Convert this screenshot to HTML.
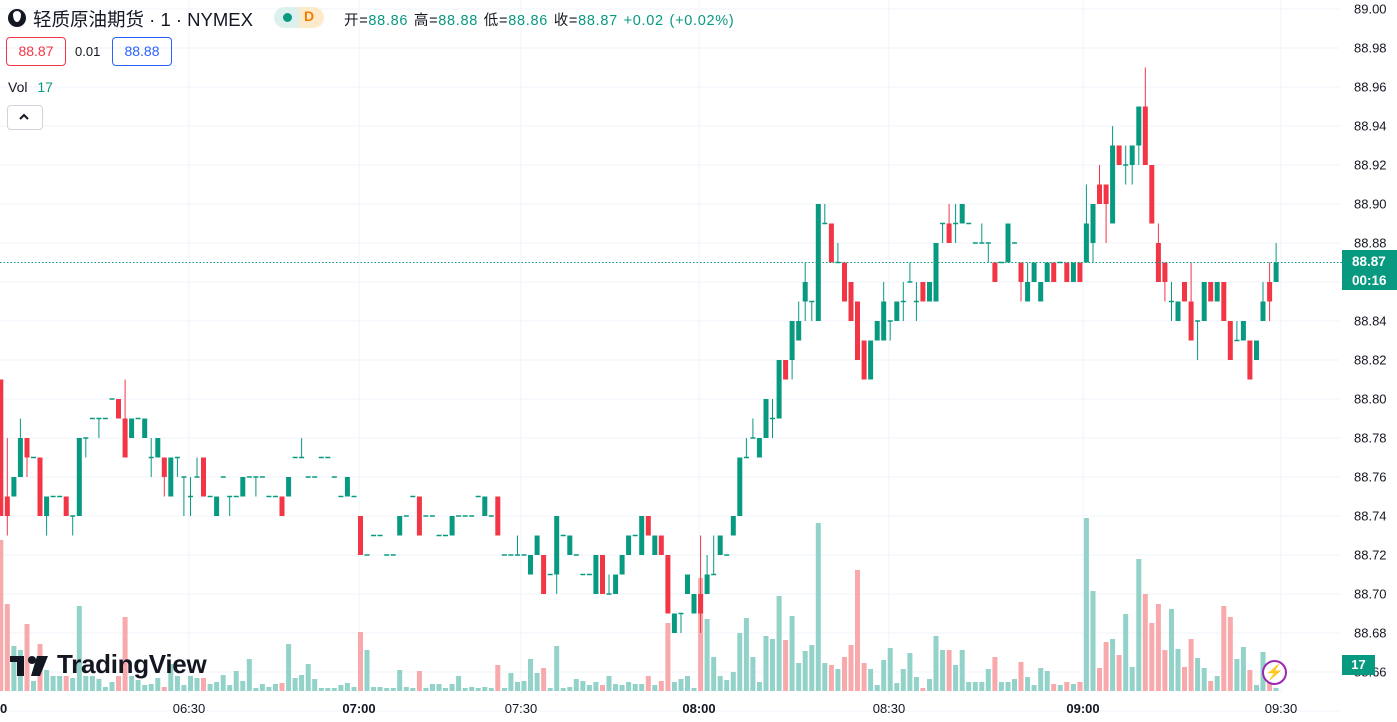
<!DOCTYPE html>
<html><head><meta charset="utf-8">
<style>
html,body{margin:0;padding:0;background:#fff;width:1397px;height:722px;overflow:hidden}
body{font-family:"Liberation Sans","Noto Sans CJK SC",sans-serif;position:relative;color:#131722}
svg{position:absolute;left:0;top:0}
.ov{position:absolute;white-space:nowrap}
.g{color:#089981}
</style></head><body>
<svg id="c" width="1397" height="722" xmlns="http://www.w3.org/2000/svg"></svg>

<div class="ov" style="left:8px;top:9px;width:18px;height:18px;border-radius:50%;background:#131722"></div>
<div class="ov" style="left:13px;top:11px;width:8px;height:11px;background:#fff;border-radius:50% 50% 50% 50% / 35% 35% 65% 65%"></div>
<div class="ov" style="left:33px;top:6px;font-size:18.5px;">轻质原油期货 · 1 · NYMEX</div>
<div class="ov" style="left:274px;top:7px;width:50px;height:21px;border-radius:11px;background:linear-gradient(90deg,#dcf1ed 0,#dcf1ed 25px,#fdeacb 25px)"></div>
<div class="ov" style="left:283px;top:13px;width:9px;height:9px;border-radius:50%;background:#089981"></div>
<div class="ov" style="left:304px;top:8px;font-size:14px;font-weight:bold;color:#f57c00">D</div>
<div class="ov" style="left:344px;top:9px;font-size:14.5px;letter-spacing:0.7px;word-spacing:1px">开=<span class="g">88.86</span> 高=<span class="g">88.88</span> 低=<span class="g">88.86</span> 收=<span class="g">88.87</span> <span class="g">+0.02 (+0.02%)</span></div>

<div class="ov" style="left:6px;top:37px;width:58px;height:27px;border:1px solid #f23645;border-radius:4px;color:#f23645;font-size:14px;line-height:27px;text-align:center">88.87</div>
<div class="ov" style="left:75px;top:44px;font-size:13px">0.01</div>
<div class="ov" style="left:112px;top:37px;width:58px;height:27px;border:1px solid #2962ff;border-radius:4px;color:#2962ff;font-size:14px;line-height:27px;text-align:center">88.88</div>
<div class="ov" style="left:8px;top:79px;font-size:14px">Vol <span class="g" style="margin-left:6px">17</span></div>
<div class="ov" style="left:7px;top:105px;width:34px;height:23px;border:1px solid #d1d4dc;border-radius:4px;background:#fff"></div>
<svg style="left:17px;top:112px" width="14" height="9"><path d="M3 7 L7 3 L11 7" stroke="#131722" stroke-width="2" fill="none"/></svg>

<div class="ov" style="left:10px;top:654px;font-size:0">
<svg width="42" height="24" style="position:static"><rect x="0" y="2" width="14" height="6" fill="#131722"/><rect x="7" y="2" width="7" height="20" fill="#131722"/><circle cx="22" cy="6" r="4" fill="#131722"/><path d="M27 2 L38 2 L30 22 L21 22 Z" fill="#131722"/></svg></div>
<div class="ov" style="left:57px;top:649px;font-size:26px;font-weight:bold;color:#131722;letter-spacing:-0.3px">TradingView</div>

<div class="ov" style="left:1342px;top:250px;width:55px;height:40px;background:#089981;color:#fff;font-size:13.5px;font-weight:bold;line-height:19px;padding-left:10px;box-sizing:border-box;padding-top:2px">88.87<br>00:16</div>
<div class="ov" style="left:1342px;top:655px;width:33px;height:20px;background:#089981;color:#fff;font-size:13px;font-weight:bold;line-height:20px;text-align:center">17</div>
<div class="ov" style="left:1262px;top:660px;width:25px;height:25px;border:2px solid #9c27b0;border-radius:50%;background:#fff;box-sizing:border-box;color:#9c27b0;font-size:15px;line-height:21px;text-align:center">⚡</div>

<script>
var D=[
[81,74,81,74],[75,74,78,73],[75,76],[76,78,79,76],[78,77,78,76],[77,77],[77,74],[74,75,75,73],[75,75],[75,75],
[75,74],[74,74,74,73],[74,78],[78,78,78,77],[79,79],[79,79,79,78],[79,79],[80,80],[80,79],[79,77,81,77],
[78,79],[79,79],[78,79],[77,77,78,76],[77,78],[77,76,77,75],[75,77],[77,77,77,76],[76,76,76,74],[75,75,76,74],
[76,76,77,76],[77,75],[75,75],[74,75],[76,76],[75,75,75,74],[75,75],[75,76],[76,76],[76,76,76,75],
[76,76],[75,75],[75,75],[75,74],[75,76],[77,77],[77,77,78,77],[76,76],[76,76],[77,77],
[77,77],[76,76],[75,75],[75,76],[75,75],[74,72],[72,72],[73,73],[73,73],[72,72],
[72,72],[73,74],[74,74],[75,75],[75,73],[74,74],[74,74],[73,73],[73,73],[73,74],
[74,74],[74,74],[74,74],[75,75],[74,75],[74,74],[75,73],[72,72],[72,72],[72,72,73,72],
[72,72],[71,72],[72,73],[72,70],[71,71],[71,74,74,70],[73,73],[72,73],[72,72],[71,71],
[71,71],[70,72],[72,70],[70,70,71,70],[70,71],[71,72],[72,73],[73,73],[72,74],[74,73],
[72,73],[73,72],[72,69],[68,69],[69,69,69,68],[70,71],[69,70],[70,69,73,68],[70,71,72,70],[71,71,73,71],
[72,73],[72,72],[73,74],[74,77],[77,77,78,77],[78,78,79,78],[77,78],[78,80],[79,79,80,78],[79,82],
[82,81],[82,84,84,81],[83,84,85,83],[85,86,87,84],[85,85,85,84],[84,90],[89,89,90,89],[89,87],[87,87,88,87],[87,85],
[86,84],[85,82],[83,81],[81,83],[83,84],[83,85,86,83],[84,84,84,83],[84,85],[85,85,86,84],[86,86,87,86],
[85,85,86,84],[86,85],[85,86],[85,88],[89,89,89,88],[89,88,90,88],[89,89,90,88],[89,90],[89,89],[88,88],
[88,88,89,88],[88,88,88,87],[87,86],[87,87],[87,89],[88,88],[87,86,87,85],[85,86,87,85],[86,87],[85,86],
[86,87],[87,86],[87,87],[87,86],[86,87],[87,86],[87,89,91,87],[88,90,90,87],[91,90,92,90],[91,90,91,88],
[89,93,94,89],[93,92],[92,92,93,91],[92,93,93,91],[93,95,95,92],[95,92,97,92],[92,89],[88,86,89,86],[87,86,87,85],[85,85,86,84],
[84,85],[86,85],[85,83,87,83],[84,84,84,82],[84,86],[86,85],[85,86],[86,84],[84,82],[83,83,84,83],
[83,84],[83,81],[82,83],[84,85,86,84],[86,85,87,84],[86,87,88,86]];
var V=[151,87,45,41,67,10,47,21,15,15,15,13,85,15,15,12,4,9,15,74,15,11,6,7,13,4,27,15,6,15,13,13,7,9,16,6,20,10,32,3,7,4,7,8,47,13,16,27,12,3,3,3,6,8,4,59,
41,4,4,3,3,21,4,3,20,3,7,7,3,7,15,3,4,3,4,3,26,3,18,9,10,32,18,23,3,45,3,4,12,10,6,9,6,15,7,6,9,7,7,15,6,10,68,9,12,15,
3,113,72,34,15,11,19,58,73,34,9,55,52,95,51,75,28,40,46,168,28,26,22,34,46,121,28,22,6,31,43,8,22,38,14,3,12,55,41,41,26,41,9,9,9,22,34,9,9,12,29,14,
6,23,20,7,6,9,7,9,173,100,23,49,52,36,77,24,132,97,68,87,41,82,42,24,52,33,23,10,15,85,74,32,44,21,6,39,28,3];
var s='';
var SP=6.54;
function y(p){return 360-(p-82)/2*39;}
for(var k=0;k<=18;k++){var gy=9+39*k;s+='<line x1="0" y1="'+gy+'" x2="1340" y2="'+gy+'" stroke="#f0f3fa" stroke-width="1"/>';}
var tx=[[0,'00',1],[189,'06:30',0],[359,'07:00',1],[521,'07:30',0],[699,'08:00',1],[889,'08:30',0],[1083,'09:00',1],[1281,'09:30',0]];
tx.forEach(function(t){if(t[0]>0)s+='<line x1="'+t[0]+'" y1="0" x2="'+t[0]+'" y2="694" stroke="#f0f3fa"/>';});
for(var i=0;i<V.length;i++){var d=D[i];var up=d[1]>=d[0];var x=0.8+i*SP;
 s+='<rect x="'+(x-2.5).toFixed(1)+'" y="'+(691-V[i])+'" width="5" height="'+V[i]+'" fill="'+(up?'#92d2c9':'#f7a9ac')+'"/>';}
for(var i=0;i<D.length;i++){var d=D[i];var o=d[0],c=d[1];var h=d.length>2?d[2]:Math.max(o,c),l=d.length>2?d[3]:Math.min(o,c);
 var up=c>=o;var col=up?'#089981':'#f23645';var x=0.8+i*SP;
 if(h>l)s+='<line x1="'+x.toFixed(1)+'" y1="'+y(h)+'" x2="'+x.toFixed(1)+'" y2="'+y(l)+'" stroke="'+col+'" stroke-width="1"/>';
 var t=y(Math.max(o,c)),b=y(Math.min(o,c));var hh=b-t;if(hh<2){t-=0.75;hh=1.5;}
 s+='<rect x="'+(x-2.5).toFixed(1)+'" y="'+t+'" width="5" height="'+hh+'" fill="'+col+'"/>';}
s+='<line x1="0" y1="262.5" x2="1342" y2="262.5" stroke="#089981" stroke-dasharray="1.5,2"/>';
for(var k=0;k<=17;k++){var p=(89-0.02*k).toFixed(2);s+='<text x="1354" y="'+(9+39*k+4.5)+'" font-size="13" fill="#131722" font-family="Liberation Sans">'+p+'</text>';}
tx.forEach(function(t){s+='<text x="'+t[0]+'" y="713" font-size="13" text-anchor="middle" fill="#131722" font-family="Liberation Sans"'+(t[2]?' font-weight="bold"':'')+'>'+t[1]+'</text>';});
document.getElementById('c').innerHTML=s;
</script>
</body></html>
